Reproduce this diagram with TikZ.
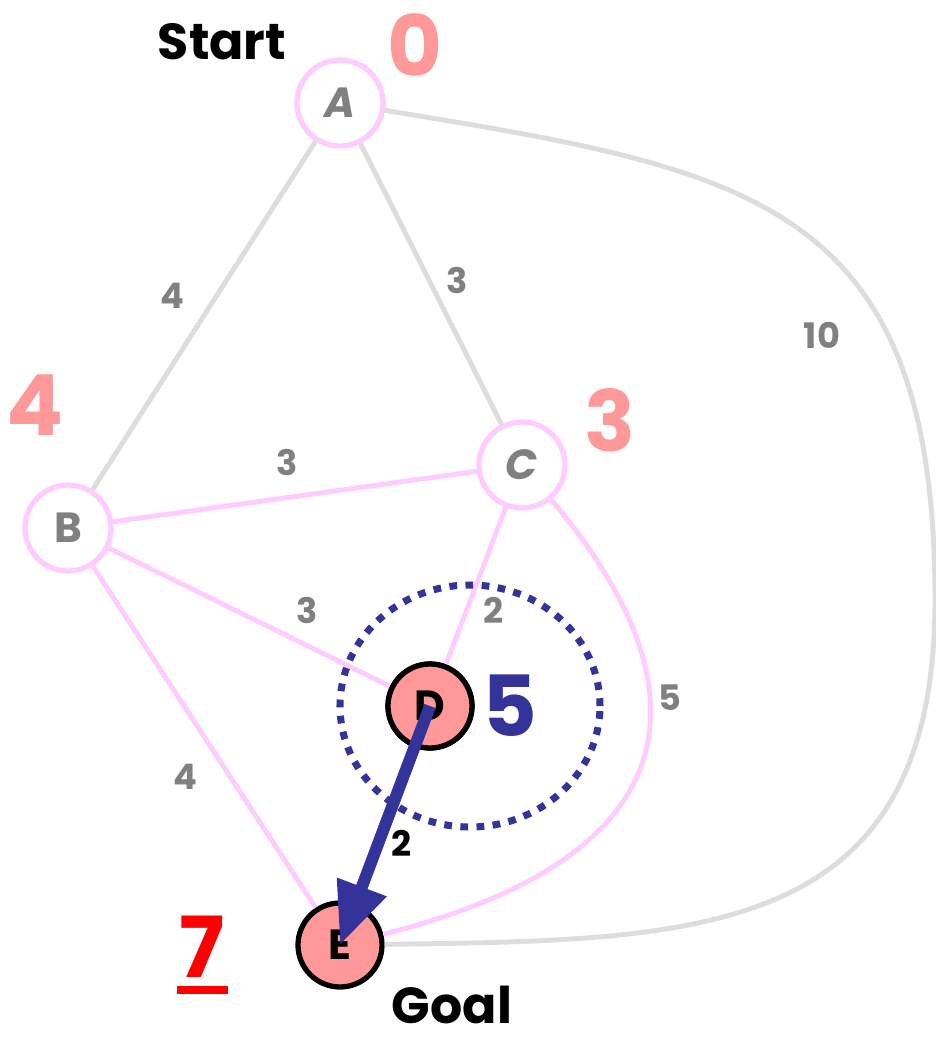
\documentclass[tikz,border=0pt]{standalone}
\usepackage{fontspec}
\setmainfont{Poppins}
\usetikzlibrary{arrows.meta}
\definecolor{edgegray}{HTML}{DDDDDD}
\definecolor{edgepink}{HTML}{FFCCFF}
\definecolor{salmon}{HTML}{FF9999}
\definecolor{navy}{HTML}{333399}
\definecolor{txtgray}{HTML}{808080}
\begin{document}
\begin{tikzpicture}[x=1cm,y=1cm,
  open/.style={draw=edgepink,line width=1.5pt,circle,minimum size=0.86cm,fill=white,font=\large\bfseries,text=txtgray},
  visited/.style={draw=black,line width=1.5pt,circle,minimum size=0.84cm,fill=salmon,font=\large\bfseries},
  grayedge/.style={draw=edgegray,line width=1.4pt},
  pinkedge/.style={draw=edgepink,line width=1.4pt},
  weight/.style={font=\normalsize\bfseries,text=txtgray},
  dist/.style={font=\fontsize{24}{26}\selectfont\bfseries,text=salmon}]
\useasboundingbox (0,0) rectangle (9.36,-10.38);
% graph nodes
\node[open] (A) at (3.40,-1.03) {\itshape A};
\node[open] (B) at (0.68,-5.28) {B};
\node[open] (C) at (5.22,-4.65) {\itshape C};
\node[visited] (D) at (4.30,-7.06) {D};
\node[visited] (E) at (3.40,-9.45) {E};
% edges
\draw[grayedge] (A) -- (B);
\draw[grayedge] (A) -- (C);
\draw[grayedge] (A) .. controls (7.5,-1.7) and (9.35,-2.0) .. (9.35,-6.0)
  .. controls (9.35,-9.4) and (7.0,-9.4) .. (E);
\draw[pinkedge] (B) -- (C);
\draw[pinkedge] (B) -- (D);
\draw[pinkedge] (B) -- (E);
\draw[pinkedge] (C) -- (D);
\draw[pinkedge] (C) .. controls (7.2,-7.0) and (6.8,-8.6) .. (E);
\node[visited] at (D) {D};
% weights
\node[weight] (wAB) at (1.72,-2.96) {4};
\node[weight] (wAC) at (4.57,-2.80) {3};
\node[weight] (wAE) at (8.22,-3.35) {10};
\node[weight] (wBC) at (2.87,-4.62) {3};
\node[weight] (wBD) at (3.07,-6.10) {3};
\node[weight] (wBE) at (1.85,-7.77) {4};
\node[weight] (wCD) at (4.94,-6.10) {2};
\node[weight] (wCE) at (6.70,-6.98) {5};
% current node and its range
\draw[navy,line width=2pt,dash pattern=on 2.2pt off 2.4pt] (4.70,-7.06) ellipse [x radius=1.30,y radius=1.21];
\draw[navy,line width=3.4pt,-{Triangle[length=0.62cm,width=0.5cm]}] (D.center) -- (E.center);
\node[font=\normalsize\bfseries] (wDE) at (4.02,-8.43) {2};
% distances
\node[dist] (dA) at (4.15,-0.45) {0};
\node[dist] (dB) at (0.35,-4.05) {4};
\node[dist] (dC) at (6.10,-4.20) {3};
\node[dist,text=navy] (dD) at (5.10,-7.06) {5};
\node[dist,text=red] (dE) at (2.02,-9.47) {7};
\draw[red,line width=2pt] (1.77,-9.90) -- (2.28,-9.90);
% labels
\node[font=\Large\bfseries] (start) at (2.22,-0.42) {Start};
\node[font=\Large\bfseries,inner sep=1pt] (goal) at (4.52,-10.05) {Goal};
\end{tikzpicture}
\end{document}
